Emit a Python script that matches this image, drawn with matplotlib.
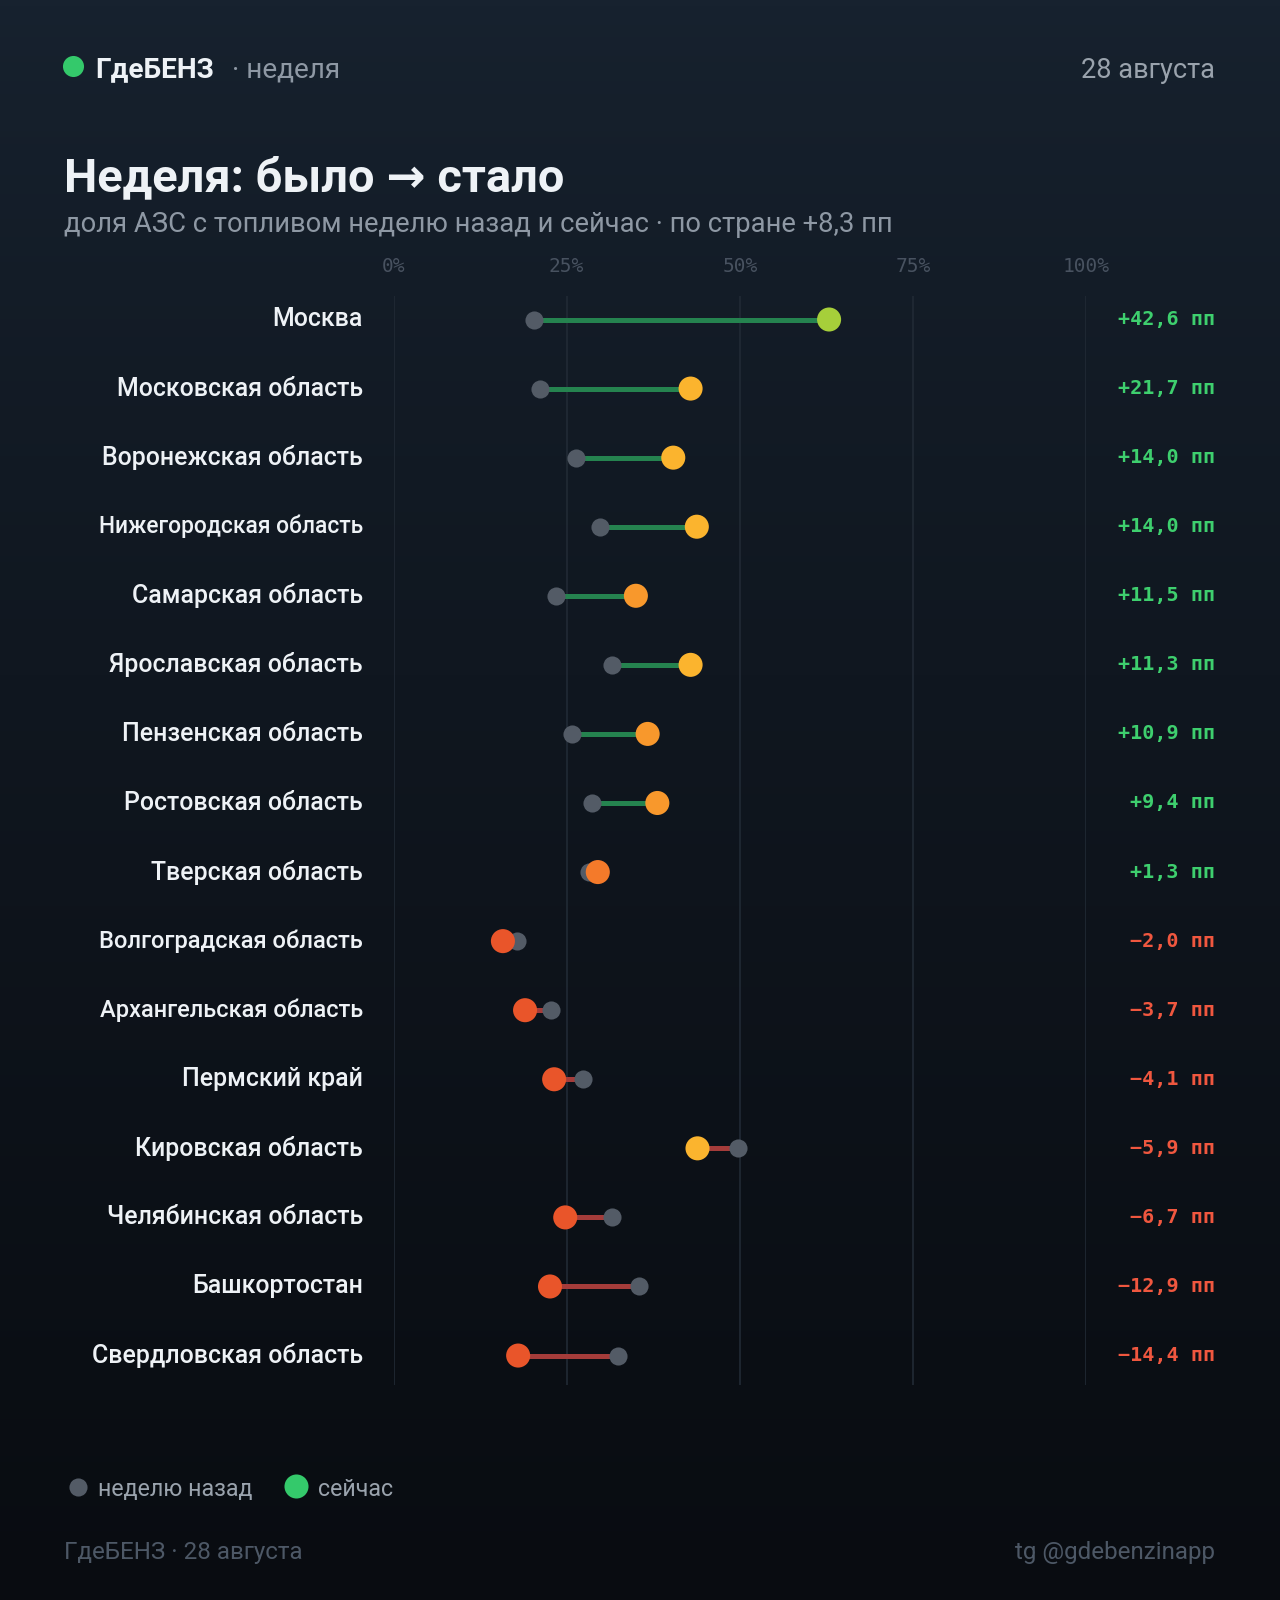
import numpy as np
import matplotlib.pyplot as plt
from matplotlib.transforms import blended_transform_factory

# data: share of stations with fuel, % (week ago / now)
regions = ["Москва", "Московская область", "Воронежская область", "Нижегородская область",
           "Самарская область", "Ярославская область", "Пензенская область", "Ростовская область",
           "Тверская область", "Волгоградская область", "Архангельская область", "Пермский край",
           "Кировская область", "Челябинская область", "Башкортостан", "Свердловская область"]
before = [20.3, 21.2, 26.4, 29.8, 23.5, 31.6, 25.8, 28.7, 28.2, 17.8, 22.7, 27.3, 49.8, 31.5, 35.5, 32.4]
now = [62.9, 42.9, 40.4, 43.8, 35.0, 42.9, 36.7, 38.1, 29.5, 15.8, 19.0, 23.2, 43.9, 24.8, 22.6, 18.0]
delta_labels = ["+42,6 пп", "+21,7 пп", "+14,0 пп", "+14,0 пп", "+11,5 пп", "+11,3 пп", "+10,9 пп",
                "+9,4 пп", "+1,3 пп", "\u22122,0 пп", "\u22123,7 пп", "\u22124,1 пп", "\u22125,9 пп",
                "\u22126,7 пп", "\u221212,9 пп", "\u221214,4 пп"]
ticks = [0, 25, 50, 75, 100]
tick_labels = ["0%", "25%", "50%", "75%", "100%"]

FONT = ["Roboto", "DejaVu Sans"]
MONO = ["DejaVu Sans Mono"]
W, H = 1280, 1600


def fx(px):
    return px / W


def fy(py):
    return 1 - py / H


def dot_color(v):
    if v >= 60:
        return "#a6cf3a"
    if v >= 40:
        return "#fbb42e"
    if v >= 33:
        return "#f8982c"
    if v >= 27:
        return "#f47a2a"
    return "#e9552a"


fig = plt.figure(figsize=(12.8, 16), dpi=100)
renderer = fig.canvas.get_renderer()


def fit(txt, width_px):
    # scale font so the text spans width_px
    w = txt.get_window_extent(renderer).width
    txt.set_fontsize(txt.get_fontsize() * width_px / w)
    return txt


# background gradient, also used for pixel-placed dots
bg = fig.add_axes([0, 0, 1, 1], zorder=-10)
grad = np.linspace(0, 1, 256).reshape(-1, 1)
top = np.array([0x17, 0x22, 0x2f]) / 255
bot = np.array([0x09, 0x0c, 0x11]) / 255
img = top + (bot - top) * grad[..., None] ** 0.8
bg.imshow(img, aspect="auto", extent=[0, W, H, 0])
bg.set_xlim(0, W)
bg.set_ylim(H, 0)
bg.axis("off")

# main axes
y_top, y_bot = 296, 1385
row0, step = 319.5, 69.07
ax = fig.add_axes([fx(393.5), fy(y_bot), fx(1086) - fx(393.5), (y_bot - y_top) / H])
ax.set_facecolor("none")
ax.set_xlim(0, 100)
ax.set_ylim((y_bot - row0) / step, (y_top - row0) / step)
for s in ax.spines.values():
    s.set_visible(False)
ax.set_xticks([])
ax.set_yticks([])

for t in ticks:
    ax.axvline(t, color="#212a35", lw=1.2, zorder=0)

ypos = np.arange(len(regions))
for i in ypos:
    b, n = before[i], now[i]
    lc = "#25834f" if n >= b else "#a53c3a"
    ax.plot([b, n], [i, i], color=lc, lw=3.6, solid_capstyle="butt", zorder=1)
ax.scatter(before, ypos, s=170, color="#535b66", zorder=2, linewidths=0)
ax.scatter(now, ypos, s=300, color=[dot_color(v) for v in now], zorder=3, linewidths=0)

# tick labels on top
for t, lab in zip(ticks, tick_labels):
    ax.text(t, fy(266), lab, transform=blended_transform_factory(ax.transData, fig.transFigure),
            ha="center", va="center", fontsize=14, color="#485260", family=MONO)

# region names and deltas
tr = blended_transform_factory(fig.transFigure, ax.transData)
name_texts = []
for i in ypos:
    t = ax.text(fx(363), i, regions[i], transform=tr, ha="right", va="center",
                fontsize=18, color="#eef2f6", family=FONT, fontweight="medium")
    name_texts.append(t)
    dc = "#3ecf6e" if now[i] >= before[i] else "#f0573f"
    ax.text(fx(1215), i, delta_labels[i], transform=tr, ha="right", va="center",
            fontsize=14.5, color=dc, family=MONO, fontweight="bold")
fit(name_texts[1], 247)
base = name_texts[1].get_fontsize()
for k, t in enumerate(name_texts):
    t.set_fontsize(base)
    # long names are set a bit smaller
    if len(regions[k]) > 20:
        fit(t, 264)

# header
bg.scatter([72.5], [66], s=230, color="#34c96b", linewidths=0)
t = fig.text(fx(95), fy(70), "ГдеБЕНЗ", fontsize=18.5, fontweight="bold", color="#eef2f6",
             family=FONT, va="center")
fit(t, 119)
fig.text(fx(232), fy(70), "· неделя", fontsize=t.get_fontsize(), color="#8e98a4", family=FONT,
         va="center")
t = fig.text(fx(1215), fy(70), "28 августа", fontsize=19, color="#9aa3ad", family=FONT,
             va="center", ha="right")
fit(t, 134)

t = fig.text(fx(64), fy(178), "Неделя: было → стало", fontsize=31, fontweight="bold",
             color="#eef2f6", family=FONT, va="center")
fit(t, 500)
t = fig.text(fx(64), fy(224), "доля АЗС с топливом неделю назад и сейчас · по стране +8,3 пп",
             fontsize=19, color="#8e98a4", family=FONT, va="center")
fit(t, 826)

# legend
bg.scatter([77.5], [1487], s=170, color="#535b66", linewidths=0)
t = fig.text(fx(98), fy(1490), "неделю назад", fontsize=18, color="#9aa3ad", family=FONT,
             va="center")
fit(t, 155)
bg.scatter([296], [1486], s=300, color="#34c96b", linewidths=0)
fig.text(fx(318), fy(1490), "сейчас", fontsize=t.get_fontsize(), color="#9aa3ad", family=FONT,
         va="center")

# footer
t = fig.text(fx(64), fy(1552), "ГдеБЕНЗ · 28 августа", fontsize=17, color="#4d5866",
             family=FONT, va="center")
fit(t, 239)
fig.text(fx(1215), fy(1552), "tg @gdebenzinapp", fontsize=t.get_fontsize(), color="#4d5866",
         family=FONT, va="center", ha="right")

fig.savefig("out.png", dpi=100)
